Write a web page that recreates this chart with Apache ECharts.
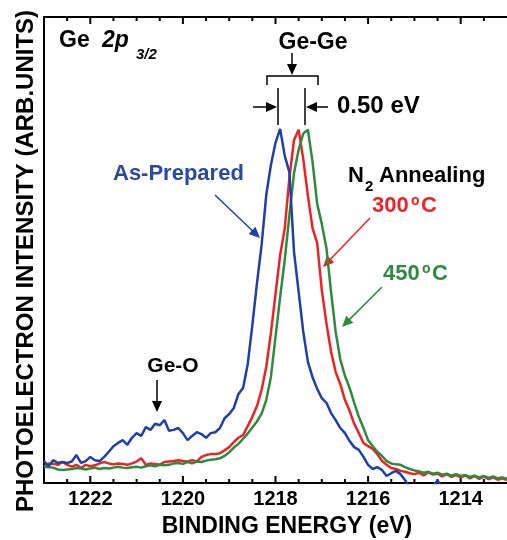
<!DOCTYPE html>
<html>
<head>
<meta charset="utf-8">
<script src="https://cdn.jsdelivr.net/npm/echarts@6/dist/echarts.min.js"></script>
<style>
  html, body { margin: 0; padding: 0; background: #fff; }
  #chart { width: 507px; height: 540px; }
</style>
</head>
<body>
<div id="chart"></div>
<script>
// binding energy grid (eV)
const energy = [
  1223.0, 1222.9, 1222.8, 1222.7, 1222.6, 1222.5, 1222.4, 1222.3, 1222.2, 1222.1,
  1222.0, 1221.9, 1221.8, 1221.7, 1221.6, 1221.5, 1221.4, 1221.3, 1221.2, 1221.1,
  1221.0, 1220.9, 1220.8, 1220.7, 1220.6, 1220.5, 1220.4, 1220.3, 1220.2, 1220.1,
  1220.0, 1219.9, 1219.8, 1219.7, 1219.6, 1219.5, 1219.4, 1219.3, 1219.2, 1219.1,
  1219.0, 1218.9, 1218.8, 1218.7, 1218.6, 1218.5, 1218.4, 1218.3, 1218.2, 1218.1,
  1218.0, 1217.9, 1217.8, 1217.7, 1217.6, 1217.5, 1217.4, 1217.3, 1217.2, 1217.1,
  1217.0, 1216.9, 1216.8, 1216.7, 1216.6, 1216.5, 1216.4, 1216.3, 1216.2, 1216.1,
  1216.0, 1215.9, 1215.8, 1215.7, 1215.6, 1215.5, 1215.4, 1215.3, 1215.2, 1215.1,
  1215.0, 1214.9, 1214.8, 1214.7, 1214.6, 1214.5, 1214.4, 1214.3, 1214.2, 1214.1,
  1214.0, 1213.9, 1213.8, 1213.7, 1213.6, 1213.5, 1213.4, 1213.3, 1213.2, 1213.1,
  1213.0
]

// intensity (arb. units)
const asPrepared = [
  4.7, 3.6, 4.9, 4.3, 4.5, 4.3, 4.6, 6.0, 4.3, 4.7,
  5.6, 4.9, 4.7, 5.6, 6.7, 7.9, 8.6, 9.2, 8.2, 9.7,
  10.7, 10.1, 12.0, 11.4, 12.7, 12.4, 13.5, 11.2, 11.4, 11.8,
  10.7, 9.2, 10.1, 10.9, 10.5, 9.7, 10.7, 10.9, 11.8, 13.9,
  14.8, 16.1, 19.1, 20.4, 25.5, 33.9, 42.9, 51.1, 61.8, 68.2,
  73.0, 76.0, 70.2, 66.7, 49.6, 41.0, 32.4, 26.0, 22.7, 20.2,
  18.2, 17.2, 15.0, 13.5, 11.8, 10.7, 9.0, 7.7, 7.1, 5.6,
  3.9, 3.0, 3.4, 2.8, 1.5, 2.1, 2.6, 1.9, 0.6, -1.1,
  -2.0, -2.5, -2.5, -1.5, -0.5, 0.5, -0.8, -2.0, -3.0, -3.0,
  -3.0, -3.0, -3.0, -3.0, -3.0, -3.0, -3.0, -3.0, -3.0, -3.0,
  -3.0
]
const anneal300 = [
  3.5, 4.2, 4.1, 3.9, 4.5, 3.9, 3.5, 3.9, 3.2, 3.9,
  3.6, 3.8, 4.2, 4.5, 4.2, 4.0, 4.2, 4.1, 3.9, 4.2,
  4.6, 5.3, 3.9, 4.2, 4.1, 3.9, 4.5, 4.6, 4.7, 4.9,
  4.7, 4.6, 4.9, 4.6, 5.6, 6.0, 6.2, 6.2, 6.4, 7.0,
  7.7, 8.8, 9.7, 10.3, 12.2, 14.2, 16.5, 20.0, 24.9, 32.1,
  40.6, 48.9, 54.7, 65.5, 73.6, 75.8, 69.5, 61.6, 54.7, 51.5,
  41.4, 34.3, 28.1, 23.8, 21.2, 17.8, 15.5, 12.7, 10.7, 8.6,
  7.9, 7.3, 6.2, 4.7, 3.9, 3.2, 3.0, 2.6, 2.4, 2.1,
  1.9, 2.2, 1.6, 2.3, 1.8, 2.0, 1.4, 1.9, 1.3, 1.7,
  1.2, 1.6, 1.0, 1.5, 0.9, 1.4, 0.8, 1.2, 0.7, 1.0,
  0.6
]
const anneal450 = [
  3.5, 3.4, 3.3, 2.9, 2.8, 2.9, 3.0, 3.2, 3.1, 2.9,
  3.1, 3.3, 3.0, 3.2, 3.1, 3.3, 3.5, 3.3, 3.2, 3.4,
  3.5, 3.3, 3.6, 3.8, 3.6, 3.9, 3.8, 3.9, 4.2, 4.3,
  4.1, 4.5, 4.2, 4.6, 4.5, 4.8, 5.0, 5.1, 5.3, 5.8,
  6.6, 7.6, 8.4, 9.5, 10.6, 11.9, 13.2, 14.9, 17.8, 22.7,
  31.3, 39.9, 47.9, 57.5, 66.5, 71.5, 75.0, 75.8, 68.9, 59.9,
  55.6, 50.4, 41.0, 32.4, 26.5, 23.0, 20.4, 17.2, 14.2, 11.8,
  9.2, 7.9, 6.7, 5.8, 4.7, 4.2, 4.0, 3.9, 3.4, 3.0,
  2.7, 2.5, 2.2, 2.4, 2.0, 2.2, 1.8, 2.0, 1.6, 1.9,
  1.5, 1.7, 1.3, 1.6, 1.2, 1.5, 1.1, 1.4, 1.0, 1.2,
  0.9
]

// x ticks: long ticks + labels at majorTicks, short ticks at every 0.5 eV
const majorTicks = [1214, 1216, 1218, 1220, 1222]
const minorTicks = [
  1213.5, 1214.5, 1215, 1215.5, 1216.5, 1217, 1217.5, 1218.5, 1219,
  1219.5, 1220.5, 1221, 1221.5, 1222.5
]

const FONT = 'Liberation Sans, Arial, sans-serif'
const BLUE = '#1f40a5'
const RED = '#ee2224'
const GREEN = '#2e8b3c'

const X_MIN = 1213, X_MAX = 1223
const GRID = { left: 44, right: 0, top: 17, bottom: 57 }
const W = 507, H = 540

const toPairs = ys => energy.map((e, i) => [e, ys[i]])

const xBase = (position, withLabel) => ({
  type: 'value',
  position: position,
  min: X_MIN,
  max: X_MAX,
  interval: 0.5,
  inverse: true,
  splitLine: { show: false },
  axisLine: { show: true, onZero: false, lineStyle: { color: '#000', width: 2 } },
  axisTick: { show: false },
  axisLabel: withLabel
    ? { show: true, customValues: majorTicks, formatter: v => String(v), margin: 6, color: '#000', fontSize: 20, fontWeight: 'bold', fontFamily: FONT }
    : { show: false }
})

// 箭头：线段 + 实心三角
const arrow = (x1, y1, x2, y2, color) => {
  const dx = x2 - x1, dy = y2 - y1
  const d = Math.sqrt(dx * dx + dy * dy)
  const ux = dx / d, uy = dy / d
  const len = 11, half = 5
  const bx = x2 - ux * len, by = y2 - uy * len
  return [
    { type: 'line', shape: { x1: x1, y1: y1, x2: bx + ux * 2, y2: by + uy * 2 }, style: { stroke: color, lineWidth: 1.5 } },
    { type: 'polygon', shape: { points: [[x2, y2], [bx - uy * half, by + ux * half], [bx + uy * half, by - ux * half]] }, style: { fill: color } }
  ]
}

const txt = (x, y, text, size, color, extra) => ({
  type: 'text', x: x, y: y,
  style: Object.assign({ text: text, fill: color, font: `bold ${size}px ${FONT}`, align: 'left', verticalAlign: 'middle' }, extra || {})
})

const seg = (x1, y1, x2, y2, color, w) => ({
  type: 'line', shape: { x1: x1, y1: y1, x2: x2, y2: y2 }, style: { stroke: color || '#000', lineWidth: w || 1.5 }
})

const chart = echarts.init(document.getElementById('chart'))

chart.setOption({
  animation: false,
  backgroundColor: '#fff',
  grid: GRID,
  xAxis: [xBase('bottom', true), xBase('top', false)],
  yAxis: {
    type: 'value', min: 0, max: 100,
    axisLine: { show: true, onZero: false, lineStyle: { color: '#000', width: 2 } },
    axisTick: { show: false },
    axisLabel: { show: false },
    splitLine: { show: false }
  },
  series: [
    { name: '300oC', type: 'line', data: toPairs(anneal300), showSymbol: false, lineStyle: { color: RED, width: 2.5 } },
    { name: '450oC', type: 'line', data: toPairs(anneal450), showSymbol: false, lineStyle: { color: GREEN, width: 2.5 } },
    { name: 'As-Prepared', type: 'line', data: toPairs(asPrepared), showSymbol: false, lineStyle: { color: BLUE, width: 2.5 } }
  ]
})

// 刻度线：朝内画在上下两条边框上
const toPx = (finder, v, fallback) => {
  let p = chart.convertToPixel(finder, v)
  if (Array.isArray(p)) p = p[0]
  return (typeof p === 'number' && isFinite(p)) ? p : fallback
}
const plotW = W - GRID.left - GRID.right
const yBottom = toPx({ yAxisIndex: 0 }, 0, H - GRID.bottom)
const yTop = toPx({ yAxisIndex: 0 }, 100, GRID.top)
const tickMarks = []
const addTicks = (vals, len) => vals.forEach(v => {
  const px = toPx({ xAxisIndex: 0 }, v, GRID.left + (X_MAX - v) / (X_MAX - X_MIN) * plotW)
  tickMarks.push(seg(px, yBottom, px, yBottom - len, '#000', 2))
  tickMarks.push(seg(px, yTop, px, yTop + len, '#000', 2))
})
addTicks(majorTicks, 7)
addTicks(minorTicks, 4)

chart.setOption({
  graphic: [
    ...tickMarks,
    // 轴标题
    txt(287, 527, 'BINDING ENERGY (eV)', 23, '#000', { align: 'center' }),
    { type: 'text', x: 26, y: 261, rotation: Math.PI / 2,
      style: { text: 'PHOTOELECTRON INTENSITY (ARB.UNITS)', fill: '#000', font: `bold 24px ${FONT}`, align: 'center', verticalAlign: 'middle' } },
    // Ge 2p3/2
    txt(59, 41, 'Ge', 23, '#000'),
    txt(102, 41, '2p', 23, '#000', { font: `italic bold 23px ${FONT}` }),
    txt(136, 55, '3/2', 15, '#000', { font: `italic bold 15px ${FONT}` }),
    // Ge-Ge 标注
    txt(313, 43, 'Ge-Ge', 23, '#000', { align: 'center' }),
    ...arrow(292, 53, 292, 75, '#000'),
    { type: 'polyline', shape: { points: [[267, 85], [267, 76], [318, 76], [318, 85]] }, style: { stroke: '#000', lineWidth: 1.5, fill: null } },
    seg(278, 88, 278, 125),
    seg(305, 88, 305, 125),
    ...arrow(253, 107, 277, 107, '#000'),
    ...arrow(328, 107, 306, 107, '#000'),
    txt(337, 106, '0.50 eV', 24, '#000'),
    // 样品标注
    txt(113, 174, 'As-Prepared', 22, '#2a4a9f'),
    ...arrow(215, 195, 260, 238, BLUE),
    txt(348, 176, 'N', 22, '#000'),
    txt(365, 187, '2', 15, '#000'),
    txt(379, 176, 'Annealing', 22, '#000'),
    txt(372, 206, '300', 22, RED),
    txt(411, 201, 'o', 14, RED),
    txt(421, 206, 'C', 22, RED),
    ...arrow(370, 218, 323, 267, RED),
    txt(383, 274, '450', 22, GREEN),
    txt(422, 269, 'o', 14, GREEN),
    txt(432, 274, 'C', 22, GREEN),
    ...arrow(382, 287, 342, 327, GREEN),
    // Ge-O
    txt(173, 366, 'Ge-O', 21, '#000', { align: 'center' }),
    ...arrow(157, 380, 157, 412, '#000')
  ]
})
</script>
</body>
</html>
